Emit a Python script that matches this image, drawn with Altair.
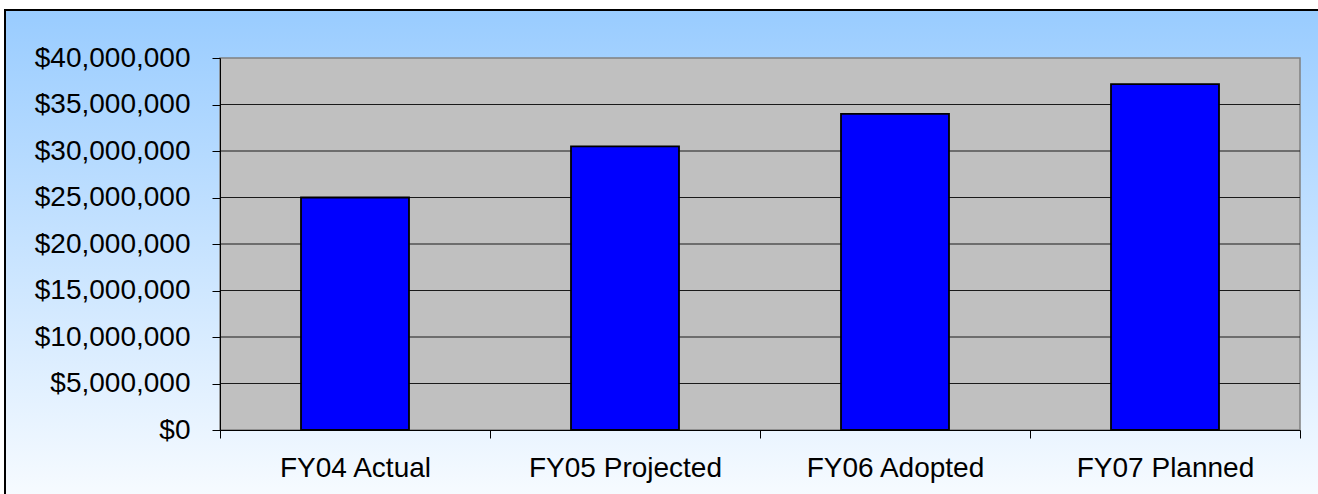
import altair as alt
import pandas as pd

# Budget by fiscal year
categories = ["FY04 Actual", "FY05 Projected", "FY06 Adopted", "FY07 Planned"]
amounts = [25000000, 30500000, 34000000, 37200000]
tick_values = [0, 5000000, 10000000, 15000000, 20000000, 25000000, 30000000, 35000000, 40000000]
grid_values = [5000000, 10000000, 15000000, 20000000, 25000000, 30000000, 35000000]

bars_df = pd.DataFrame({"category": categories, "amount": amounts})
grid_df = pd.DataFrame({"amount": grid_values})
one_row = pd.DataFrame({"k": [0]})

W, H = 1080, 372
FONT = "Liberation Sans"
FS = 28

x_enc = alt.X(
    "category:N",
    sort=categories,
    scale=alt.Scale(paddingInner=0, paddingOuter=0),
    axis=alt.Axis(
        title=None, labelAngle=0, tickBand="extent", tickSize=8,
        tickColor="black", domainColor="black", labelFont=FONT,
        labelFontSize=FS, labelColor="black", labelPadding=16, zindex=1,
        labelLimit=500, grid=False,
    ),
)
y_scale = alt.Scale(domain=[0, 40000000], nice=False)
y_enc = alt.Y(
    "amount:Q",
    scale=y_scale,
    axis=alt.Axis(
        title=None, values=tick_values, format="$,.0f", tickSize=8,
        tickColor="black", domainColor="black", labelFont=FONT,
        labelFontSize=FS, labelColor="black", labelPadding=22, zindex=1,
        labelLimit=500, grid=False,
    ),
)

# Outer frame with a vertical sky-blue to white gradient
frame = alt.Chart(one_row).mark_rect(
    fill=alt.Gradient(
        gradient="linear",
        stops=[alt.GradientStop(color="#99CCFF", offset=0),
               alt.GradientStop(color="#FFFFFF", offset=1)],
        x1=0, x2=0, y1=0, y2=1,
    ),
    stroke="black", strokeWidth=2,
).encode(
    x=alt.value(-215), x2=alt.value(W + 60),
    y=alt.value(-48), y2=alt.value(H + 110),
)

# Gray plot area
plot_bg = alt.Chart(one_row).mark_rect(
    fill="#C0C0C0", stroke="#808080", strokeWidth=1.5,
).encode(
    x=alt.value(0), x2=alt.value(W), y=alt.value(0), y2=alt.value(H),
)

grid = alt.Chart(grid_df).mark_rule(color="#1a1a1a", strokeWidth=1.2).encode(
    y=alt.Y("amount:Q", scale=y_scale),
    x=alt.value(0), x2=alt.value(W),
)

bars = alt.Chart(bars_df).mark_bar(
    color="#0000FF", stroke="black", strokeWidth=1.8,
    width=alt.RelativeBandSize(0.4),
).encode(x=x_enc, y=y_enc)

chart = alt.layer(frame, plot_bg, grid, bars).properties(
    width=W, height=H,
    padding={"left": 220, "top": 58, "right": 18, "bottom": 64},
    autosize="none",
).configure(background="white").configure_view(stroke=None)

chart.save("out.html", embed_options={"renderer": "svg", "actions": False})
